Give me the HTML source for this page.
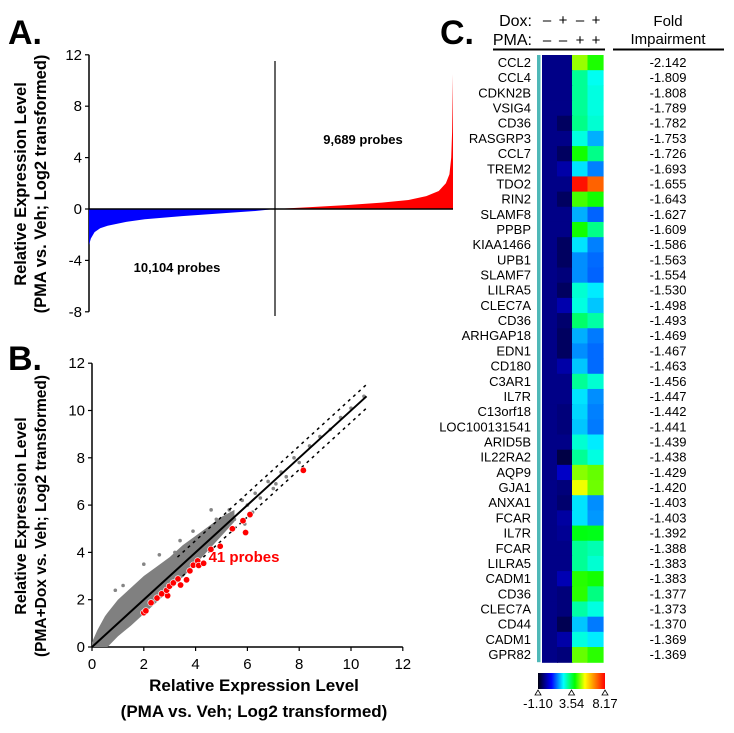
<!DOCTYPE html>
<html><head><meta charset="utf-8">
<style>
html,body{margin:0;padding:0;background:#fff;}
svg{display:block;font-family:"Liberation Sans",Arial,sans-serif;}
</style></head>
<body>
<svg id="fig" width="734" height="733" viewBox="0 0 734 733" xmlns="http://www.w3.org/2000/svg">
  <rect width="734" height="733" fill="#fff"/>
  <text x="8" y="44" font-size="34" font-weight="bold">A.</text>
  <text x="8" y="370" font-size="34" font-weight="bold">B.</text>
  <text x="440" y="44" font-size="34" font-weight="bold">C.</text>

  <g id="panelA"></g>
  <g id="panelB"></g>
  <g id="panelC"></g>
</svg>
<script>
// ---------- Panel A data ----------
var aNegFrac = [0, 0.01, 0.03, 0.06, 0.1, 0.2, 0.3, 0.5, 0.7, 0.9, 1.0];
var aNegVals = [-2.8, -2.3, -1.8, -1.5, -1.3, -1.0, -0.8, -0.55, -0.35, -0.15, 0];
var aPosFrac = [0, 0.2, 0.4, 0.6, 0.75, 0.85, 0.92, 0.96, 0.98, 0.99, 0.995, 1.0];
var aPosVals = [0, 0.15, 0.3, 0.5, 0.7, 1.0, 1.4, 2.0, 2.7, 4.0, 6.0, 10.5];
var aTicks = [12, 8, 4, 0, -4, -8];
// ---------- Panel B data ----------
var bTicks = [0, 2, 4, 6, 8, 10, 12];
var cloudX = [0, 0.2, 0.5, 0.6, 1, 1.5, 2, 2.5, 3, 3.5, 4, 4.5, 5, 5.5];
var cloudUpper = [0.2, 0.7, 1.3, 1.45, 2.0, 2.5, 3.0, 3.4, 3.8, 4.3, 4.7, 5.1, 5.5, 5.8];
var cloudLower = [0, 0, 0, 0, 0.45, 0.9, 1.4, 1.9, 2.4, 2.95, 3.5, 4.1, 4.7, 5.3];
var grayX = [5.3,5.5,5.8,6.0,6.3,6.5,6.8,7.0,7.3,7.5,7.8,8.0,8.4,8.8,9.2,9.6,10.0,10.5,4.8,4.6,3.4,3.2,2.0,1.2,0.9,6.2,7.1,5.9,2.6,3.9];
var grayY = [5.8,5.4,6.2,6.0,6.5,6.3,7.0,6.7,7.4,7.2,8.0,7.8,8.5,8.9,9.2,9.7,10.1,10.6,5.4,5.8,4.5,4.0,3.5,2.6,2.4,5.7,6.9,5.2,3.9,4.9];
var redX = [2.0,2.08,2.28,2.51,2.69,2.92,2.88,2.99,3.14,3.32,3.42,3.65,3.78,3.91,4.08,4.12,4.31,4.59,4.95,5.42,5.83,6.1,5.93,8.16];
var redY = [1.45,1.53,1.87,2.07,2.25,2.17,2.4,2.57,2.71,2.88,2.62,2.84,3.22,3.46,3.64,3.45,3.54,4.13,4.26,5.0,5.34,5.6,4.84,7.47];
var fitLine = [0, 10.6];
// ---------- Panel C data ----------
var genes = ["CCL2","CCL4","CDKN2B","VSIG4","CD36","RASGRP3","CCL7","TREM2","TDO2","RIN2","SLAMF8","PPBP","KIAA1466","UPB1","SLAMF7","LILRA5","CLEC7A","CD36","ARHGAP18","EDN1","CD180","C3AR1","IL7R","C13orf18","LOC100131541","ARID5B","IL22RA2","AQP9","GJA1","ANXA1","FCAR","IL7R","FCAR","LILRA5","CADM1","CD36","CLEC7A","CD44","CADM1","GPR82"];
var foldVals = ["-2.142","-1.809","-1.808","-1.789","-1.782","-1.753","-1.726","-1.693","-1.655","-1.643","-1.627","-1.609","-1.586","-1.563","-1.554","-1.530","-1.498","-1.493","-1.469","-1.467","-1.463","-1.456","-1.447","-1.442","-1.441","-1.439","-1.438","-1.429","-1.420","-1.403","-1.403","-1.392","-1.388","-1.383","-1.383","-1.377","-1.373","-1.370","-1.369","-1.369"];
var col1 = [-0.2,-0.2,-0.2,-0.2,-0.2,-0.2,-0.2,-0.2,-0.2,-0.2,-0.2,-0.2,-0.2,-0.2,-0.2,-0.2,-0.2,-0.2,-0.2,-0.2,-0.2,-0.2,-0.2,-0.2,-0.2,-0.2,-0.2,-0.2,-0.2,-0.2,-0.2,-0.2,-0.2,-0.2,-0.2,-0.2,-0.2,-0.2,-0.2,-0.2];
var col2 = [-0.2,-0.2,-0.2,-0.2,-0.5,-0.2,-0.5,0.05,-0.2,-0.5,-0.2,-0.2,-0.5,-0.5,-0.3,-0.5,0.1,-0.4,-0.5,-0.5,0.05,-0.2,-0.2,-0.3,-0.3,-0.2,-0.7,0.3,-0.3,-0.4,0.0,-0.1,-0.2,-0.2,0.15,-0.3,-0.3,-0.6,0.05,-0.3];
var col3 = [4.83,3.07,3.07,3.07,3.16,2.61,4.09,2.24,7.98,4.37,1.9,4.09,2.24,1.68,1.68,2.7,2.61,3.35,1.9,1.68,2.05,3.07,2.24,2.15,2.05,2.7,3.07,4.74,5.3,2.24,2.24,3.9,3.07,3.07,4.2,4.23,2.98,2.05,2.61,4.55];
var col4 = [4.15,2.5,2.61,2.61,2.7,1.9,3.16,1.59,7.1,4.09,1.4,3.16,1.59,1.45,1.4,2.3,2.05,2.98,1.55,1.45,1.45,2.7,1.68,1.59,1.55,2.3,2.61,4.55,4.6,1.68,1.75,3.85,2.9,2.7,4.1,3.2,2.61,1.55,2.3,4.23];
var cbLabels = ["-1.10","3.54","8.17"];
var cbValues = [-1.10, 3.54, 8.17];

var NS = "http://www.w3.org/2000/svg";
function mk(parent, tag, attrs, txt){
  var e = document.createElementNS(NS, tag);
  for (var k in attrs) e.setAttribute(k, attrs[k]);
  if (txt !== undefined) e.textContent = txt;
  parent.appendChild(e);
  return e;
}

// ================= Panel A =================
(function(){
  var g = document.getElementById('panelA');
  var x0 = 89, xMid = 275, x1 = 453;
  function ay(v){ return 209 - v * 12.85; }
  var ax = mk(g,'line',{x1:x0,y1:ay(12),x2:x0,y2:ay(-8),stroke:'#000','stroke-width':1.5});
   
  aTicks.forEach(function(t){
    var tk = mk(g,'line',{x1:x0-4,y1:ay(t),x2:x0,y2:ay(t),stroke:'#000','stroke-width':1.2});
     
    var lb = mk(g,'text',{x:x0-7,y:ay(t)+5,'font-size':15,'text-anchor':'end'}, String(t));
     
  });
  var d = 'M'+x0+','+ay(0);
  aNegFrac.forEach(function(f,i){ d += ' L'+(x0+f*(xMid-x0))+','+ay(aNegVals[i]); });
  d += ' L'+xMid+','+ay(0)+' Z';
  var neg = mk(g,'path',{d:d,fill:'#0000ff'});
   
  d = 'M'+xMid+','+ay(0);
  aPosFrac.forEach(function(f,i){ d += ' L'+(xMid+f*(x1-xMid))+','+ay(aPosVals[i]); });
  d += ' L'+x1+','+ay(0)+' Z';
  var pos = mk(g,'path',{d:d,fill:'#ff0000'});
   
  var zl = mk(g,'line',{x1:x0,y1:ay(0),x2:x1,y2:ay(0),stroke:'#000','stroke-width':1.5});
   
  var vl = mk(g,'line',{x1:xMid,y1:61,x2:xMid,y2:316,stroke:'#000','stroke-width':1.2});
   
  var t1 = mk(g,'text',{x:363,y:144,'font-size':13,'font-weight':'bold','text-anchor':'middle'},'9,689 probes');
   
  var t2 = mk(g,'text',{x:177,y:272,'font-size':13,'font-weight':'bold','text-anchor':'middle'},'10,104 probes');
   
  var yl = mk(g,'text',{transform:'translate(26,184) rotate(-90)','font-size':16.5,'font-weight':'bold','text-anchor':'middle'},'Relative Expression Level');
   
  var yl2 = mk(g,'text',{transform:'translate(46,184) rotate(-90)','font-size':16.5,'font-weight':'bold','text-anchor':'middle'},'(PMA vs. Veh; Log2 transformed)');
   
})();

// ================= Panel B =================
(function(){
  var g = document.getElementById('panelB');
  function bx(v){ return 92 + v * 25.9; }
  function by(v){ return 647 - v * 23.65; }
  var ya = mk(g,'line',{x1:bx(0),y1:by(12),x2:bx(0),y2:by(0),stroke:'#000','stroke-width':1.5});
   
  var xa = mk(g,'line',{x1:bx(0),y1:by(0),x2:bx(12),y2:by(0),stroke:'#000','stroke-width':1.5});
   
  bTicks.forEach(function(t){
    var a = mk(g,'line',{x1:bx(0)-4,y1:by(t),x2:bx(0),y2:by(t),stroke:'#000','stroke-width':1.2});
     
    var l = mk(g,'text',{x:bx(0)-7,y:by(t)+5,'font-size':15,'text-anchor':'end'},String(t));
     
    var b = mk(g,'line',{x1:bx(t),y1:by(0),x2:bx(t),y2:by(0)+4,stroke:'#000','stroke-width':1.2});
     
    var m = mk(g,'text',{x:bx(t),y:by(0)+22,'font-size':15,'text-anchor':'middle'},String(t));
     
  });
  var d = '';
  cloudX.forEach(function(x,i){ d += (i?' L':'M')+bx(x)+','+by(cloudUpper[i]); });
  for (var i=cloudX.length-1;i>=0;i--) d += ' L'+bx(cloudX[i])+','+by(cloudLower[i]);
  d += ' Z';
  var cl = mk(g,'path',{d:d,fill:'#808080'});
   
  grayX.forEach(function(x,i){
    var c = mk(g,'circle',{cx:bx(x),cy:by(grayY[i]),r:1.8,fill:'#858585'});
     
  });
  var fl = mk(g,'line',{x1:bx(fitLine[0]),y1:by(fitLine[0]),x2:bx(fitLine[1]),y2:by(fitLine[1]),stroke:'#000','stroke-width':2});
   
  var du = mk(g,'line',{x1:bx(3.3),y1:by(3.8),x2:bx(10.6),y2:by(11.1),stroke:'#000','stroke-width':1.5,'stroke-dasharray':'3,4'});
   
  var dl = mk(g,'line',{x1:bx(3.3),y1:by(2.8),x2:bx(10.6),y2:by(10.1),stroke:'#000','stroke-width':1.5,'stroke-dasharray':'3,4'});
   
  redX.forEach(function(x,i){
    var c = mk(g,'circle',{cx:bx(x),cy:by(redY[i]),r:3.2,fill:'#ff0000',stroke:'#fff','stroke-width':0.6});
     
  });
  var rt = mk(g,'text',{x:244,y:562,'font-size':15,'font-weight':'bold',fill:'#ff0000','text-anchor':'middle'},'41 probes');
   
  var xt = mk(g,'text',{x:254,y:691,'font-size':17,'font-weight':'bold','text-anchor':'middle'},'Relative Expression Level');
   
  var xt2 = mk(g,'text',{x:254,y:717,'font-size':17,'font-weight':'bold','text-anchor':'middle'},'(PMA vs. Veh; Log2 transformed)');
   
  var yt = mk(g,'text',{transform:'translate(26,516) rotate(-90)','font-size':16,'font-weight':'bold','text-anchor':'middle'},'Relative Expression Level');
   
  var yt2 = mk(g,'text',{transform:'translate(46,516) rotate(-90)','font-size':15.5,'font-weight':'bold','text-anchor':'middle'},'(PMA+Dox vs. Veh; Log2 transformed)');
   
})();

// ================= Panel C =================
(function(){
  var g = document.getElementById('panelC');
  var stops = [[0,[0,0,16]],[0.1,[0,0,139]],[0.2,[0,0,255]],[0.38,[0,255,255]],[0.55,[0,255,0]],[0.7,[255,255,0]],[0.85,[255,128,0]],[1,[255,0,0]]];
  var vmin = -1.10, vmax = 8.17;
  function cmap(v){
    var t = Math.max(0,Math.min(1,(v-vmin)/(vmax-vmin)));
    for (var i=1;i<stops.length;i++){
      if (t<=stops[i][0]){
        var a=stops[i-1], b=stops[i], f=(t-a[0])/(b[0]-a[0]);
        var c=[0,1,2].map(function(k){return Math.round(a[1][k]+(b[1][k]-a[1][k])*f);});
        return 'rgb('+c.join(',')+')';
      }
    }
    return 'rgb(255,0,0)';
  }
  var top = 55, rowH = 15.18, colX = [542,557,572,587.5], colW = 15.5;
  var cols = [col1,col2,col3,col4];
  var h1 = mk(g,'text',{x:532,y:26,'font-size':16,'text-anchor':'end'},'Dox:');
   
  var h2 = mk(g,'text',{x:532,y:45,'font-size':16,'text-anchor':'end'},'PMA:');
   
  var dox = ['\u2013','+','\u2013','+'], pma = ['\u2013','\u2013','+','+'];
  var sx = [547,563,580,596];
  sx.forEach(function(x,i){
    var a = mk(g,'text',{x:x,y:25,'font-size':15,'text-anchor':'middle'},dox[i]);
     
    var b = mk(g,'text',{x:x,y:45,'font-size':15,'text-anchor':'middle'},pma[i]);
     
  });
  var l1 = mk(g,'line',{x1:493,y1:49.5,x2:605,y2:49.5,stroke:'#000','stroke-width':2});
   
  var f1 = mk(g,'text',{x:668,y:26,'font-size':15,'text-anchor':'middle'},'Fold');
   
  var f2 = mk(g,'text',{x:668,y:44,'font-size':15,'text-anchor':'middle'},'Impairment');
   
  var l2 = mk(g,'line',{x1:613,y1:49.5,x2:724,y2:49.5,stroke:'#000','stroke-width':2});
   
  var tb = mk(g,'rect',{x:537,y:top,width:3.5,height:rowH*genes.length,fill:'#4fb8b8'});
   
  genes.forEach(function(name,r){
    var y = top + r*rowH;
    cols.forEach(function(col,c){
      var cell = mk(g,'rect',{x:colX[c],y:y,width:colW+0.6,height:rowH+0.6,fill:cmap(col[r])});
       
    });
    var gl = mk(g,'text',{x:531,y:y+12,'font-size':13,'text-anchor':'end'},name);
     
    var fv = mk(g,'text',{x:668,y:y+12,'font-size':13,'text-anchor':'middle'},foldVals[r]);
     
  });
  var defs = mk(g,'defs',{});
  var lg = mk(defs,'linearGradient',{id:'cbg',x1:0,y1:0,x2:1,y2:0});
  stops.forEach(function(s){ mk(lg,'stop',{offset:s[0],'stop-color':'rgb('+s[1].join(',')+')'}); });
  var cbx0 = 538, cbx1 = 605;
  var cb = mk(g,'rect',{x:cbx0,y:673,width:cbx1-cbx0,height:16,fill:'url(#cbg)'});
   
  cbValues.forEach(function(v,i){
    var x = cbx0 + (v-vmin)/(vmax-vmin)*(cbx1-cbx0);
    var tr = mk(g,'path',{d:'M'+(x-3)+',695 L'+(x+3)+',695 L'+x+',690 Z',fill:'#fff',stroke:'#000','stroke-width':0.8});
     
    var tl = mk(g,'text',{x:x,y:708,'font-size':13,'text-anchor':'middle'},cbLabels[i]);
     
  });
})();
</script>
</body></html>
